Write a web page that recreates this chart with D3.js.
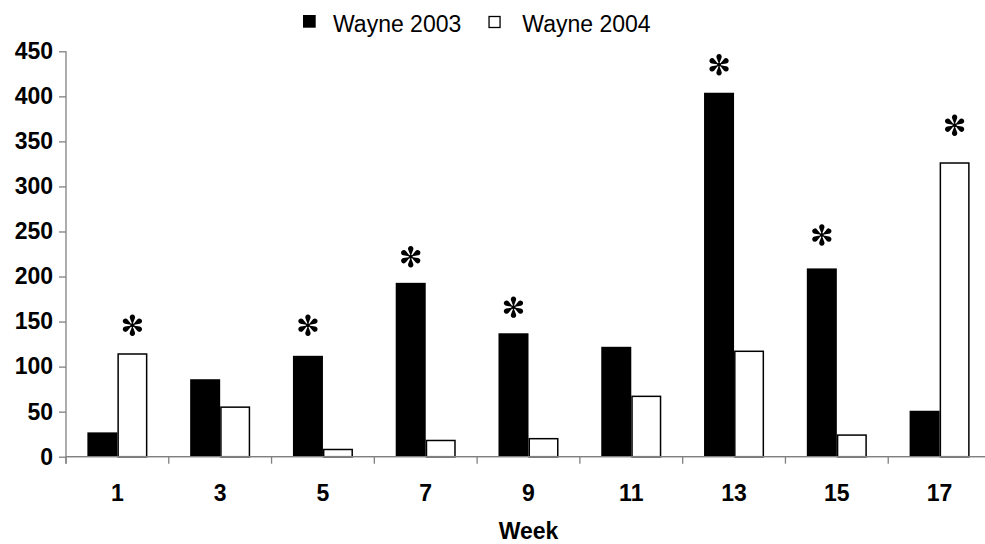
<!DOCTYPE html>
<html>
<head>
<meta charset="utf-8">
<script src="https://cdn.jsdelivr.net/npm/d3@7"></script>
<style>
  body { margin: 0; background: #fff; }
  svg { display: block; font-family: "Liberation Sans", Arial, sans-serif; }
</style>
</head>
<body>
<div id="chart"></div>
<script>
// Data ------------------------------------------------------------------------
const weeks = ["1", "3", "5", "7", "9", "11", "13", "15", "17"];
const wayne2003 = [27, 86, 112, 193, 137, 122, 404, 209, 51];
const wayne2004 = [114, 55, 8, 18, 20, 67, 117, 24, 326];
const seriesNames = ["Wayne 2003", "Wayne 2004"];
const yTicks = [0, 50, 100, 150, 200, 250, 300, 350, 400, 450];

// asterisks: which week, which series, and the value level they sit at
const starWeeks = ["1", "5", "7", "9", "13", "15", "17"];
const starSeries = [1, 0, 0, 0, 0, 0, 1];
const starLevels = [146, 146, 222, 166, 435, 246, 368];

// Canvas ----------------------------------------------------------------------
const canvasWidth = 985;
const canvasHeight = 544;
const leftEdge = 66;
const rightEdge = 991;
const baseline = 456.7;
const topEdge = 51.3;
const axisColor = "#808080";
const fontSize = 23;

const svg = d3.select("#chart")
  .append("svg")
  .attr("width", canvasWidth)
  .attr("height", canvasHeight);

// Scales ----------------------------------------------------------------------
const xScale = d3.scaleBand()
  .domain(weeks)
  .range([leftEdge, rightEdge])
  .paddingInner(0.416)
  .paddingOuter(0.208);
const xSeries = d3.scaleBand()
  .domain([0, 1])
  .range([0, xScale.bandwidth()]);
const yScale = d3.scaleLinear()
  .domain([0, 450])
  .range([baseline, topEdge]);

// Y axis ----------------------------------------------------------------------
const yAxis = svg.append("g")
  .attr("transform", "translate(" + leftEdge + ",0)")
  .call(d3.axisLeft(yScale).tickValues(yTicks).tickSize(7).tickSizeOuter(0).tickPadding(6));
yAxis.select(".domain").attr("stroke", axisColor).attr("stroke-width", 1.3)
  .attr("d", "M0," + topEdge + "V" + (baseline + 7));
yAxis.selectAll(".tick line").attr("stroke", axisColor).attr("stroke-width", 1.3);
yAxis.selectAll("text")
  .attr("fill", "#000")
  .style("font-size", fontSize + "px")
  .style("font-weight", "bold")
  .style("font-family", "'Liberation Sans', Arial, sans-serif");

// X axis ----------------------------------------------------------------------
const step = xScale.step();
const xAxis = svg.append("g")
  .attr("transform", "translate(0," + baseline + ")")
  .call(d3.axisBottom(xScale).tickSize(0).tickSizeOuter(0).tickPadding(27.7));
xAxis.select(".domain").attr("stroke", axisColor).attr("stroke-width", 1.3)
  .attr("d", "M" + leftEdge + ",0H" + rightEdge);
xAxis.selectAll("text")
  .attr("fill", "#000")
  .style("font-size", fontSize + "px")
  .style("font-weight", "bold")
  .style("font-family", "'Liberation Sans', Arial, sans-serif");

// category boundary ticks
xAxis.selectAll(".boundary")
  .data(d3.range(weeks.length + 1))
  .join("line")
  .attr("class", "boundary")
  .attr("x1", i => leftEdge + i * step)
  .attr("x2", i => leftEdge + i * step)
  .attr("y1", 0)
  .attr("y2", 7)
  .attr("stroke", axisColor)
  .attr("stroke-width", 1.3);

svg.append("text")
  .text("Week")
  .attr("x", (leftEdge + rightEdge) / 2)
  .attr("y", 539)
  .attr("text-anchor", "middle")
  .style("font-size", fontSize + "px")
  .style("font-weight", "bold");

// Bars ------------------------------------------------------------------------
const rows = weeks.map((w, i) => ({ week: w, values: [wayne2003[i], wayne2004[i]] }));

const groups = svg.append("g")
  .selectAll("g")
  .data(rows)
  .join("g")
  .attr("transform", d => "translate(" + xScale(d.week) + ",0)");

groups.selectAll("rect")
  .data(d => d.values.map((v, s) => ({ s: s, v: v })))
  .join("rect")
  .attr("x", d => xSeries(d.s) + (d.s === 1 ? 0.75 : 0))
  .attr("y", d => yScale(d.v))
  .attr("width", d => xSeries.bandwidth() - (d.s === 1 ? 1.5 : 0))
  .attr("height", d => baseline - yScale(d.v))
  .attr("fill", d => d.s === 0 ? "#000" : "#fff")
  .attr("stroke", d => d.s === 0 ? "none" : "#000")
  .attr("stroke-width", 1.5);

// redraw axis line over bars bottom
svg.append("line")
  .attr("x1", leftEdge).attr("x2", rightEdge)
  .attr("y1", baseline).attr("y2", baseline)
  .attr("stroke", axisColor).attr("stroke-width", 1.3);

// Asterisks -------------------------------------------------------------------
function petal() {
  return "M0,-0.5 L-2.5,-7 A2.7,2.7 0 1 1 2.5,-7 Z";
}
const stars = svg.append("g")
  .selectAll("g")
  .data(starWeeks.map((w, i) => ({ week: w, s: starSeries[i], level: starLevels[i] })))
  .join("g")
  .attr("transform", d => "translate(" +
    (xScale(d.week) + xSeries(d.s) + xSeries.bandwidth() / 2) + "," + yScale(d.level) + ")");

stars.selectAll("path")
  .data([0, 60, 120, 180, 240, 300])
  .join("path")
  .attr("d", petal())
  .attr("transform", a => "rotate(" + a + ")")
  .attr("fill", "#000");
stars.append("circle").attr("r", 2).attr("fill", "#000");

// Legend ----------------------------------------------------------------------
const legend = svg.append("g");
let legendX = 303;
seriesNames.forEach(function(name, s) {
  legend.append("rect")
    .attr("x", legendX + (s === 1 ? 0.75 : 0))
    .attr("y", 15 + (s === 1 ? 1.5 : 0))
    .attr("width", s === 1 ? 11 : 12.7)
    .attr("height", s === 1 ? 11 : 12.7)
    .attr("fill", s === 0 ? "#000" : "#fff")
    .attr("stroke", s === 0 ? "none" : "#000")
    .attr("stroke-width", 1.3);
  const label = legend.append("text")
    .text(name)
    .attr("x", legendX + (s === 0 ? 30 : 34))
    .attr("y", 31.7)
    .style("font-size", fontSize + "px");
  legendX = legendX + 30 + label.node().getComputedTextLength() + 27;
});
</script>
</body>
</html>
